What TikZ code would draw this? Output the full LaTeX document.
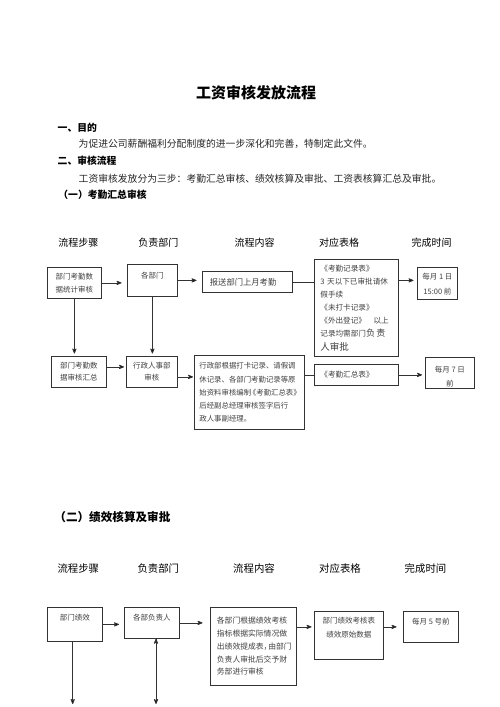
\documentclass[tikz,border=0pt]{standalone}
\usepackage{fontspec}
\setmainfont{Noto Sans CJK SC}
\usepackage{xcolor}
\usepackage{tikz}
\usetikzlibrary{arrows,positioning}
\definecolor{boxline}{HTML}{333333}
\definecolor{boxtext}{HTML}{404040}

\begin{document}
\begin{tikzpicture}[x=1pt,y=-1pt,->,>=stealth',line width=0.8pt,
  box/.style={draw=boxline,rectangle,anchor=north west,inner sep=0pt,text=boxtext,font=\fontsize{7.5}{13}\selectfont,align=center},
  txt/.style={inner sep=0pt,text=boxtext,font=\fontsize{7.5}{13}\selectfont,align=center},
  colhead/.style={inner sep=0pt,font=\fontsize{10}{12}\selectfont},
  heading/.style={inner sep=0pt,anchor=west,font=\fontsize{9.8}{12}\selectfont\bfseries},
  para/.style={inner sep=0pt,anchor=west,text=black!85,font=\fontsize{9.8}{12}\selectfont}]

    \useasboundingbox (0,0) rectangle (500,707);

    % The text
    \node[font=\fontsize{15}{18}\selectfont\bfseries] (title) at (256,93) {工资审核发放流程};
    \node[heading] (aim) at (57.3,127.7) {一、目的};
    \node[para] (aimtxt) at (78.3,144.3) {为促进公司薪酬福利分配制度的进一步深化和完善，特制定此文件。};
    \node[heading] (flow) at (57.3,161) {二、审核流程};
    \node[para] (flowtxt) at (78.3,178.3) {工资审核发放分为三步：考勤汇总审核、绩效核算及审批、工资表核算汇总及审批。};
    \node[heading] (part1) at (58,195) {（一）考勤汇总审核};
    \node[heading,font=\fontsize{11.6}{14}\selectfont\bfseries] (part2) at (54,516.7) {（二）绩效核算及审批};

    % Column heads
    \node[colhead] (k1) at (78.3,242.3) {流程步骤};
    \node[colhead] (k2) at (158.3,242.3) {负责部门};
    \node[colhead] (k3) at (254.5,242.3) {流程内容};
    \node[colhead] (k4) at (339,242.3) {对应表格};
    \node[colhead] (k5) at (431.7,242.3) {完成时间};
    \node[colhead,font=\fontsize{10.4}{12}\selectfont] (m1) at (78.3,569) {流程步骤};
    \node[colhead,font=\fontsize{10.4}{12}\selectfont] (m2) at (158.3,569) {负责部门};
    \node[colhead,font=\fontsize{10.4}{12}\selectfont] (m3) at (254,569) {流程内容};
    \node[colhead,font=\fontsize{10.4}{12}\selectfont] (m4) at (340,569) {对应表格};
    \node[colhead,font=\fontsize{10.4}{12}\selectfont] (m5) at (425.5,569) {完成时间};

    % The graph, part one
    \node[box,minimum width=54pt,minimum height=31pt,font=\fontsize{7.5}{13.3}\selectfont] at (47,267) (s11) {部门考勤数\\据统计审核};
    \node[box,minimum width=50pt,minimum height=32pt] at (127,264) (d11) {};
    \node[txt,below=7.6pt of d11.north] (d11t) {各部门};
    \node[box,minimum width=90pt,minimum height=21pt,text width=75pt,inner xsep=7.5pt,align=left,font=\fontsize{8.3}{13}\selectfont] at (202,271) (c11) {报送部门上月考勤};
    \node[box,minimum width=84pt,minimum height=97pt,text width=72pt,inner xsep=6pt,align=left,font=\fontsize{7.6}{13.1}\selectfont] at (314,259) (f11)
      {《考勤记录表》\\3 天以下已审批请休\\假手续\\《未打卡记录》\\《外出登记》\quad 以上\\记录均需部门{\fontsize{9}{13.1}\selectfont 负\,责}\\{\fontsize{9.5}{13.1}\selectfont 人审批}};
    \node[box,minimum width=40pt,minimum height=32pt] at (417,267) (t11) {};
    \node[txt,below=6.2pt of t11.north,font=\fontsize{7.5}{15}\selectfont] (t11t) {每月 1 日\\15:00 前};

    \node[box,minimum width=55pt,minimum height=31pt,font=\fontsize{7.5}{11.7}\selectfont] at (51,356) (s12) {部门考勤数\\据审核汇总};
    \node[box,minimum width=51pt,minimum height=31pt,font=\fontsize{7.5}{11.7}\selectfont] at (126,356) (d12) {行政人事部\\审核};
    \node[box,minimum width=110pt,minimum height=74pt,text width=100pt,inner xsep=5pt,align=left,font=\fontsize{7.4}{13.2}\selectfont] at (194,355) (c12)
      {行政部根据打卡记录、请假调\\休记录、各部门考勤记录等原\\始资料审核编制\kern-.3em《考勤汇总表》\\后经副总经理审核签字后行\\政人事副经理。};
    \node[box,minimum width=84pt,minimum height=21pt,text width=72pt,inner xsep=6pt,align=left,font=\fontsize{7.6}{13}\selectfont] at (314,364) (f12) {《考勤汇总表》};
    \node[box,minimum width=49pt,minimum height=31pt] at (425,357) (t12) {};
    \node[txt,below=8.5pt of t12.north,font=\fontsize{7.5}{14.7}\selectfont] (t12t) {每月 7 日\\前};

    % The graph, part two
    \node[box,minimum width=55pt,minimum height=34pt] at (47,607) (s21) {};
    \node[txt,below=7.2pt of s21.north] (s21t) {部门绩效};
    \node[box,minimum width=55pt,minimum height=31pt] at (124,607) (d21) {};
    \node[txt,below=7.2pt of d21.north] (d21t) {各部负责人};
    \node[box,minimum width=86pt,minimum height=78pt,text width=73pt,inner xsep=6.5pt,align=left,font=\fontsize{7.8}{12.75}\selectfont] at (210,607) (c21)
      {各部门根据绩效考核\\指标根据实际情况做\\出绩效提成表，\kern-.4em由部门\\负责人审批后交予财\\务部进行审核};
    \node[box,minimum width=69pt,minimum height=48pt] at (314,611) (f21) {};
    \node[txt,below=5.9pt of f21.north,font=\fontsize{7.5}{14.3}\selectfont] (f21t) {部门绩效考核表\\绩效原始数据};
    \node[box,minimum width=55pt,minimum height=31pt] at (403,611) (t21) {};
    \node[txt,below=6.9pt of t21.north] (t21t) {每月 5 号前};
    \coordinate (e1) at (72.7,704);
    \coordinate (e2) at (156,704);

    % Graph edges
    \path[->,draw=boxline]
    (s11) edge[shorten >=5.5pt] (s11 -| d11.west)
    (d11) edge[shorten >=5.5pt] (d11 -| c11.west)
    (c11) edge[-] (c11 -| f11.west)
    ([yshift=3pt]t11.west -| f11.east) edge[shorten >=3.5pt] ([yshift=3pt]t11.west)
    (s11) edge[shorten >=2.5pt] (s11 |- s12.north)
    (d11) edge[shorten >=2.5pt] (d11 |- d12.north)
    ([yshift=5pt]s12.east) edge[shorten >=2pt] ([yshift=5pt]s12.east -| d12.west)
    ([yshift=-5pt]d12.east) edge[shorten >=1pt] ([yshift=-5pt]d12.east -| c12.west)
    (f12 -| c12.east) edge[-] (f12)
    (f12) edge[shorten >=3pt] (f12 -| t12.west)
    (s21) edge[shorten >=5pt] (s21 -| d21.west)
    (d21) edge[shorten >=7.5pt] (d21 -| c21.west)
    (t21 -| c21.east) edge[shorten >=2.5pt] (t21 -| f21.west)
    (t21 -| f21.east) edge[shorten >=6.5pt] (t21)
    (s21.south -| e1) edge (e1)
    (d21.south -| e2) edge (e2);

\end{tikzpicture}
\end{document}
